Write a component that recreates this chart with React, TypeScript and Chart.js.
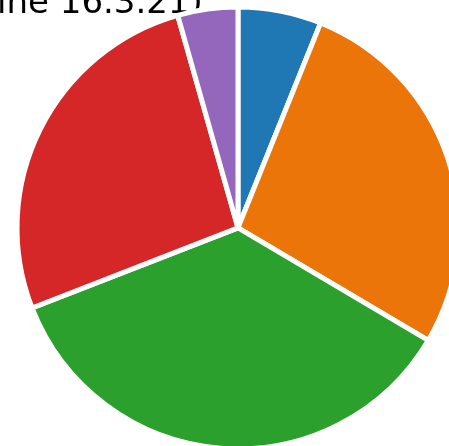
import React, { useEffect, useRef } from "react";
import { Chart, registerables } from "chart.js";

Chart.register(...registerables);

const titleText = "(online 16.3.21)";
const categories = ["A", "B", "C", "D", "E"];
const shares = [6.1, 27.4, 35.6, 26.5, 4.4];
const colors = ["#1f77b4", "#ec750a", "#2ca02c", "#d62728", "#9467bd"];

export default function App() {
  const ref = useRef<HTMLCanvasElement | null>(null);
  useEffect(() => {
    document.body.style.margin = "0";
    const chart = new Chart(ref.current!, {
      type: "pie",
      data: {
        labels: categories,
        datasets: [
          {
            data: shares,
            backgroundColor: colors,
            borderColor: "#ffffff",
            borderWidth: 5,
            hoverOffset: 0,
            clip: false,
          } as any,
        ],
      },
      options: {
        animation: false,
        responsive: false,
        radius: 221,
        layout: { padding: { top: 0, left: 0, right: 0, bottom: 44 } },
        plugins: {
          legend: { display: false },
          tooltip: { enabled: false },
          title: {
            display: true,
            text: titleText,
            align: "start",
            color: "#000000",
            font: { family: "DejaVu Sans", size: 34, weight: "normal" },
            padding: { top: 10, bottom: 10 },
          },
        },
      } as any,
    });
    return () => chart.destroy();
  }, []);
  return (
    <div style={{ position: "relative", width: 449, height: 446, overflow: "hidden", background: "#fff" }}>
      <canvas
        ref={ref}
        width={612}
        height={491}
        style={{ position: "absolute", left: -68, top: -26, width: 612, height: 491 }}
      />
    </div>
  );
}
